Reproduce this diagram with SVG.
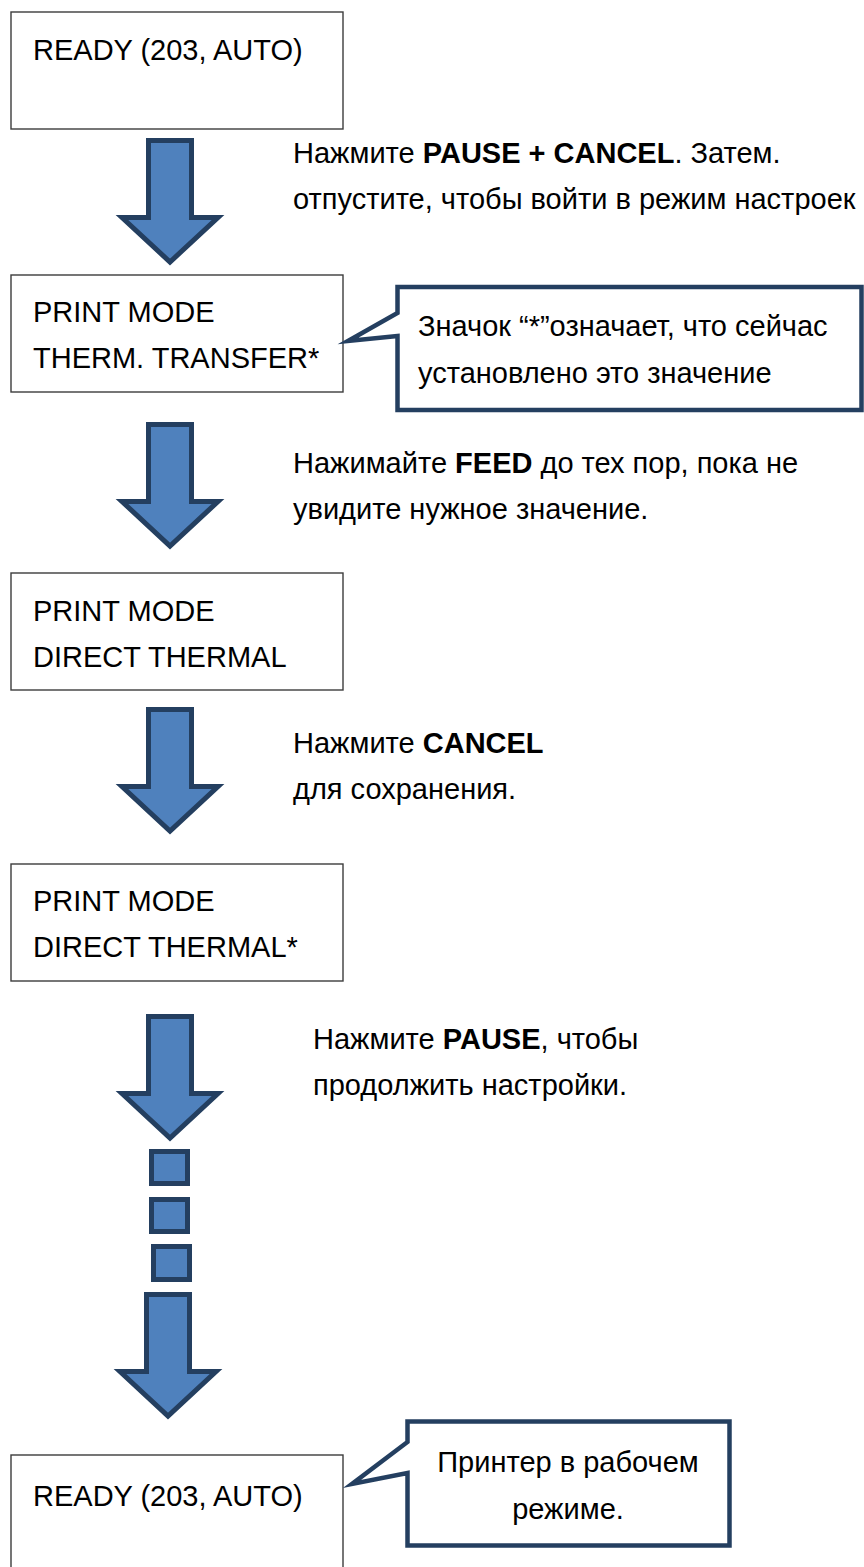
<svg xmlns="http://www.w3.org/2000/svg" width="864" height="1567" viewBox="0 0 864 1567">
  <style>
    .box { fill: #ffffff; stroke: #3c3c3c; stroke-width: 1.4; }
    .bt { font-family: "Liberation Sans", Arial, sans-serif; font-size: 29px; fill: #000; }
    .st { font-family: "Liberation Sans", Arial, sans-serif; font-size: 29px; fill: #000; }
    .b { font-weight: bold; }
    .arrow { fill: #4F81BD; stroke: #243F60; stroke-width: 5; stroke-linejoin: miter; stroke-miterlimit: 10; }
    .callout { fill: #ffffff; stroke: #243F60; stroke-width: 4.5; stroke-linejoin: miter; stroke-miterlimit: 10; }
  </style>
  <defs>
    <path id="darrow" d="M-21.5,0 H21.5 V77 H48 L0,121.5 L-48,77 H-21.5 Z"/>
  </defs>
  <rect width="864" height="1567" fill="#ffffff"/>

  <g id="connectors">
    <use href="#darrow" class="arrow" transform="translate(170,140.5)"/>
    <use href="#darrow" class="arrow" transform="translate(170,424.5)"/>
    <use href="#darrow" class="arrow" transform="translate(170,709.5)"/>
    <use href="#darrow" class="arrow" transform="translate(170,1016.5)"/>
    <rect class="arrow" x="151.5" y="1151.5" width="36" height="32"/>
    <rect class="arrow" x="151.5" y="1199.5" width="36" height="32"/>
    <rect class="arrow" x="153.5" y="1246.5" width="36" height="33"/>
    <use href="#darrow" class="arrow" transform="translate(168,1294.5)"/>
  </g>

  <g id="node-ready1">
    <rect class="box" x="11" y="12" width="332" height="117"/>
    <text class="bt" x="33" y="60">READY (203, AUTO)</text>
  </g>

  <g id="label-step1">
    <text class="st" x="293" y="163">Нажмите <tspan class="b">PAUSE + CANCEL</tspan>. Затем.</text>
    <text class="st" x="293" y="209">отпустите, чтобы войти в режим настроек</text>
  </g>

  <g id="node-thermtransfer">
    <rect class="box" x="11" y="275" width="332" height="117"/>
    <text class="bt" x="33" y="322">PRINT MODE</text>
    <text class="bt" x="33" y="368">THERM. TRANSFER*</text>
  </g>

  <g id="callout-asterisk">
    <path class="callout" d="M397.5,287 H861.5 V410 H397.5 V336 L348,341 L397.5,313 Z"/>
    <text class="st" x="418" y="336">Значок “*”означает, что сейчас</text>
    <text class="st" x="418" y="383">установлено это значение</text>
  </g>

  <g id="label-step2">
    <text class="st" x="293" y="473">Нажимайте <tspan class="b">FEED</tspan> до тех пор, пока не</text>
    <text class="st" x="293" y="519">увидите нужное значение.</text>
  </g>

  <g id="node-direct">
    <rect class="box" x="11" y="573" width="332" height="117"/>
    <text class="bt" x="33" y="621">PRINT MODE</text>
    <text class="bt" x="33" y="667">DIRECT THERMAL</text>
  </g>

  <g id="label-step3">
    <text class="st" x="293" y="753">Нажмите <tspan class="b">CANCEL</tspan></text>
    <text class="st" x="293" y="799">для сохранения.</text>
  </g>

  <g id="node-direct-saved">
    <rect class="box" x="11" y="864" width="332" height="117"/>
    <text class="bt" x="33" y="911">PRINT MODE</text>
    <text class="bt" x="33" y="957">DIRECT THERMAL*</text>
  </g>

  <g id="label-step4">
    <text class="st" x="313" y="1049">Нажмите <tspan class="b">PAUSE</tspan>, чтобы</text>
    <text class="st" x="313" y="1095">продолжить настройки.</text>
  </g>

  <g id="node-ready2">
    <rect class="box" x="11" y="1455" width="332" height="120"/>
    <text class="bt" x="33" y="1506">READY (203, AUTO)</text>
  </g>

  <g id="callout-ready">
    <path class="callout" d="M407.5,1421.5 H729.5 V1545.5 H407.5 V1473 L352,1484 L407.5,1442 Z"/>
    <text class="st" x="568" y="1472" text-anchor="middle">Принтер в рабочем</text>
    <text class="st" x="568" y="1519" text-anchor="middle">режиме.</text>
  </g>
</svg>
